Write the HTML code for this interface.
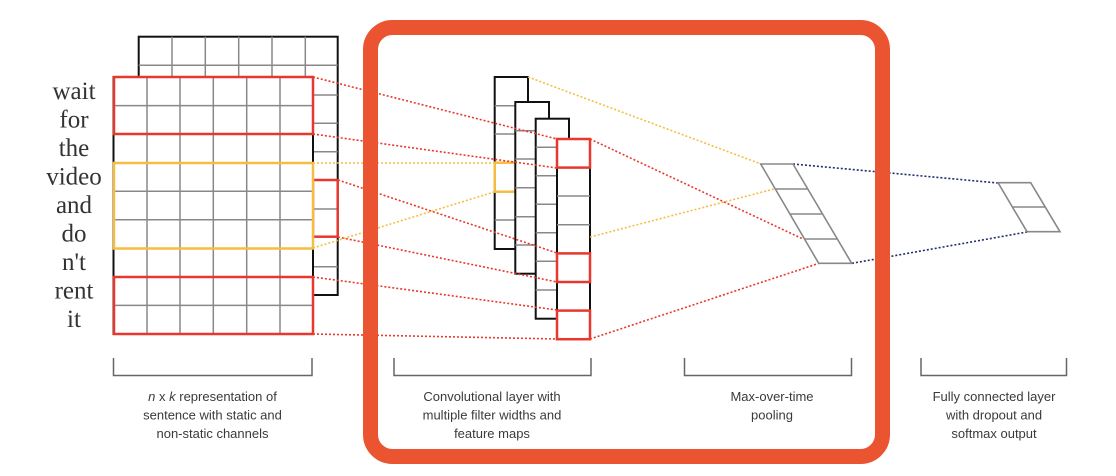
<!DOCTYPE html>
<html><head><meta charset="utf-8"><style>
html,body{margin:0;padding:0;background:#fff;}
svg{display:block;}
.t{font-family:"Liberation Sans",sans-serif;font-size:13px;fill:#3a3a3a;text-anchor:middle;}
.w{font-family:"Liberation Serif",serif;font-size:25px;fill:#333;text-anchor:middle;}
</style></head><body>
<svg width="1116" height="476" viewBox="0 0 1116 476" xmlns="http://www.w3.org/2000/svg">
<!-- back grid -->
<g fill="none">
<rect x="138.7" y="36.7" width="199" height="258.3" fill="#fff" stroke="#111" stroke-width="2"/>
<g stroke="#888" stroke-width="1.5">
<line x1="138.7" y1="65.3" x2="337.7" y2="65.3"/>
<line x1="313" y1="95" x2="337.7" y2="95"/>
<line x1="313" y1="123.3" x2="337.7" y2="123.3"/>
<line x1="313" y1="151.7" x2="337.7" y2="151.7"/>
<line x1="313" y1="209" x2="337.7" y2="209"/>
<line x1="313" y1="266.7" x2="337.7" y2="266.7"/>
<line x1="172" y1="36.7" x2="172" y2="77"/>
<line x1="205.3" y1="36.7" x2="205.3" y2="77"/>
<line x1="238.7" y1="36.7" x2="238.7" y2="77"/>
<line x1="272" y1="36.7" x2="272" y2="77"/>
<line x1="305.3" y1="36.7" x2="305.3" y2="77"/>
</g>
<rect x="313" y="180" width="24.7" height="56.7" stroke="#e8382e" stroke-width="2.5"/>
<!-- front grid -->
<rect x="113.5" y="77" width="199.5" height="257" fill="#fff" stroke="#111" stroke-width="2"/>
<g stroke="#888" stroke-width="1.5">
<line x1="113.5" y1="105.6" x2="313" y2="105.6"/>
<line x1="113.5" y1="134.1" x2="313" y2="134.1"/>
<line x1="113.5" y1="162.7" x2="313" y2="162.7"/>
<line x1="113.5" y1="191.2" x2="313" y2="191.2"/>
<line x1="113.5" y1="219.8" x2="313" y2="219.8"/>
<line x1="113.5" y1="248.3" x2="313" y2="248.3"/>
<line x1="113.5" y1="276.9" x2="313" y2="276.9"/>
<line x1="113.5" y1="305.4" x2="313" y2="305.4"/>
<line x1="147" y1="77" x2="147" y2="334"/>
<line x1="180" y1="77" x2="180" y2="334"/>
<line x1="213.3" y1="77" x2="213.3" y2="334"/>
<line x1="246.7" y1="77" x2="246.7" y2="334"/>
<line x1="280" y1="77" x2="280" y2="334"/>
</g>
<rect x="114" y="77" width="199" height="57" stroke="#e8382e" stroke-width="2.5"/>
<rect x="114" y="277" width="199" height="57" stroke="#e8382e" stroke-width="2.5"/>
<rect x="114" y="163" width="199" height="85.5" stroke="#f5be42" stroke-width="2.5"/>
</g>
<!-- words -->
<g class="w">
<text x="74" y="99">wait</text>
<text x="74" y="127.5">for</text>
<text x="74" y="156">the</text>
<text x="74" y="184.5">video</text>
<text x="74" y="213">and</text>
<text x="74" y="241.5">do</text>
<text x="74" y="270">n't</text>
<text x="74" y="298.5">rent</text>
<text x="74" y="327">it</text>
</g>
<!-- conv columns -->
<rect x="494.7" y="77" width="33.3" height="172" fill="#fff" stroke="#111" stroke-width="2"/>
<g stroke="#888" stroke-width="1.5">
<line x1="494.7" y1="105.7" x2="528" y2="105.7"/>
<line x1="494.7" y1="134" x2="528" y2="134"/>
<line x1="494.7" y1="191.7" x2="528" y2="191.7"/>
<line x1="494.7" y1="220" x2="528" y2="220"/>
</g>
<rect x="494.7" y="162.7" width="21" height="29" fill="none" stroke="#f5be42" stroke-width="2.5"/>
<rect x="515.3" y="102" width="33.7" height="171.7" fill="#fff" stroke="#111" stroke-width="2"/>
<g stroke="#888" stroke-width="1.5">
<line x1="515.3" y1="130.7" x2="549" y2="130.7"/>
<line x1="515.3" y1="159" x2="549" y2="159"/>
<line x1="515.3" y1="187.7" x2="549" y2="187.7"/>
<line x1="515.3" y1="216.7" x2="549" y2="216.7"/>
<line x1="515.3" y1="245" x2="549" y2="245"/>
</g>
<rect x="535.7" y="118.7" width="33.3" height="200" fill="#fff" stroke="#111" stroke-width="2"/>
<g stroke="#888" stroke-width="1.5">
<line x1="535.7" y1="147.3" x2="569" y2="147.3"/>
<line x1="535.7" y1="175.7" x2="569" y2="175.7"/>
<line x1="535.7" y1="204.3" x2="569" y2="204.3"/>
<line x1="535.7" y1="232.7" x2="569" y2="232.7"/>
<line x1="535.7" y1="261.3" x2="569" y2="261.3"/>
<line x1="535.7" y1="290" x2="569" y2="290"/>
</g>
<rect x="557" y="139" width="33" height="200" fill="#fff" stroke="#111" stroke-width="2"/>
<g stroke="#888" stroke-width="1.5">
<line x1="557" y1="196" x2="590" y2="196"/>
<line x1="557" y1="224.7" x2="590" y2="224.7"/>
</g>
<g fill="none" stroke="#e8382e" stroke-width="2.5">
<rect x="557" y="139" width="33" height="28.6"/>
<rect x="557" y="253.4" width="33" height="28.6"/>
<rect x="557" y="310.6" width="33" height="28.6"/>
</g>
<!-- dotted connectors (on top) -->
<g fill="none" stroke-width="1.6" stroke-dasharray="2 2">
<g stroke="#e8382e">
<line x1="313" y1="77" x2="557" y2="139"/>
<line x1="313" y1="134" x2="557" y2="168"/>
<line x1="338" y1="180" x2="557" y2="253"/>
<line x1="338" y1="237" x2="557" y2="282"/>
<line x1="313" y1="277" x2="557" y2="310"/>
<line x1="313" y1="334" x2="557" y2="339"/>
<line x1="590" y1="139" x2="803" y2="239"/>
<line x1="590" y1="339" x2="819" y2="263.3"/>
</g>
<g stroke="#f5be42">
<line x1="313" y1="163" x2="494" y2="163"/>
<line x1="313" y1="248" x2="494" y2="192"/>
<line x1="528" y1="77" x2="761" y2="164"/>
<line x1="590" y1="237" x2="774" y2="189"/>
</g>
<g stroke="#1f2d6b">
<line x1="793" y1="164" x2="998" y2="183"/>
<line x1="852" y1="263.3" x2="1027" y2="232"/>
</g>
</g>
<!-- pooling -->
<g fill="none" stroke="#888" stroke-width="1.6">
<polygon points="760.7,164 793,164 851.7,263.3 818.7,263.3"/>
<line x1="775.5" y1="189" x2="807.8" y2="189"/>
<line x1="790.2" y1="214" x2="822.5" y2="214"/>
<line x1="805" y1="239" x2="837.3" y2="239"/>
</g>
<!-- output -->
<g fill="none" stroke="#888" stroke-width="1.6">
<polygon points="998,182.7 1030.7,182.7 1060,231.7 1027,231.7"/>
<line x1="1012.5" y1="207" x2="1045.3" y2="207"/>
</g>
<!-- frame -->
<rect x="370.5" y="27.5" width="512" height="429" rx="22" ry="22" fill="none" stroke="#ea5430" stroke-width="15"/>
<!-- brackets -->
<g fill="none" stroke="#666" stroke-width="1.5">
<polyline points="113.5,358 113.5,375.5 312,375.5 312,358"/>
<polyline points="394,358 394,375.5 591,375.5 591,358"/>
<polyline points="684.5,358 684.5,375.5 851.5,375.5 851.5,358"/>
<polyline points="921,358 921,375.5 1066.5,375.5 1066.5,358"/>
</g>
<!-- labels -->
<text class="t" x="212.5" y="401"><tspan font-style="italic">n</tspan> x <tspan font-style="italic">k</tspan> representation of</text>
<text class="t" x="212.5" y="419.5">sentence with static and</text>
<text class="t" x="212.5" y="438">non-static channels</text>
<text class="t" x="492" y="401">Convolutional layer with</text>
<text class="t" x="492" y="419.5">multiple filter widths and</text>
<text class="t" x="492" y="438">feature maps</text>
<text class="t" x="772" y="401">Max-over-time</text>
<text class="t" x="772" y="419.5">pooling</text>
<text class="t" x="994" y="401">Fully connected layer</text>
<text class="t" x="994" y="419.5">with dropout and</text>
<text class="t" x="994" y="438">softmax output</text>
</svg>
</body></html>
